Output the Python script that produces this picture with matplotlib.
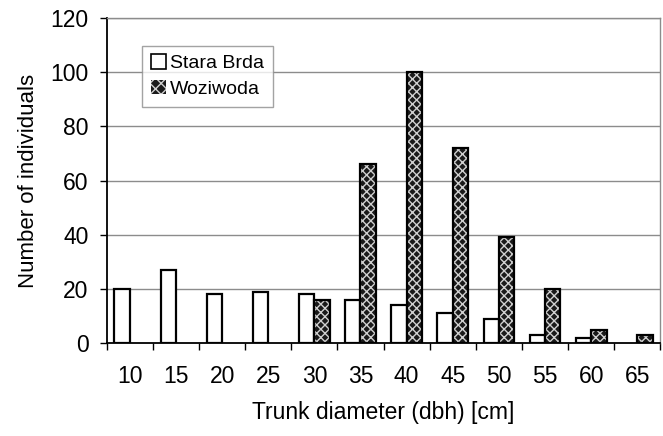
import matplotlib.pyplot as plt
import numpy as np
from matplotlib.patches import Patch

plt.rcParams["font.family"] = ["Liberation Sans", "DejaVu Sans"]

DIAMETERS = ["10", "15", "20", "25", "30", "35", "40", "45", "50", "55", "60", "65"]
STARA_BRDA = [20, 27, 18, 19, 18, 16, 14, 11, 9, 3, 2, 0]
WOZIWODA = [0, 0, 0, 0, 16, 66, 100, 72, 39, 20, 5, 3]

FS = 16.5

fig = plt.figure(figsize=(6.63, 4.36), dpi=100)
ax = fig.add_axes([0.161, 0.213, 0.835, 0.746])

x = np.arange(len(DIAMETERS))
w = 1 / 3
sb = np.array(STARA_BRDA)
wz = np.array(WOZIWODA)

for y in range(20, 121, 20):
    ax.axhline(y, color="0.55", lw=1.0, zorder=0)

# empty classes get no bar at all (no flat outline on the axis)
m1 = sb > 0
ax.bar(x[m1] - w / 2, sb[m1], width=w, color="white", edgecolor="black", lw=1.6, zorder=2)
m2 = wz > 0
ax.bar(x[m2] + w / 2, wz[m2], width=w, color="#1a1a1a", edgecolor="#d0d0d0", hatch="xxxx",
       lw=0, zorder=2)
ax.bar(x[m2] + w / 2, wz[m2], width=w, fill=False, edgecolor="black", lw=1.6, zorder=3)

ax.set_xlim(-0.5, len(DIAMETERS) - 0.5)
ax.set_ylim(0, 120)
ax.set_yticks(range(0, 121, 20))
ax.set_xticks(x)
ax.set_xticklabels(DIAMETERS)
ax.set_xticks(np.arange(len(DIAMETERS) + 1) - 0.5, minor=True)
ax.tick_params(axis="x", which="major", length=0, pad=16, labelsize=FS)
ax.tick_params(axis="x", which="minor", length=5, width=1.0, direction="out")
ax.tick_params(axis="y", length=5, width=1.0, direction="out", labelsize=FS, pad=8)

for s in ["left", "bottom"]:
    ax.spines[s].set_color("black")
    ax.spines[s].set_linewidth(1.3)
for s in ["top", "right"]:
    ax.spines[s].set_color("0.55")
    ax.spines[s].set_linewidth(1.0)

ax.set_xlabel("Trunk diameter (dbh) [cm]", fontsize=FS, labelpad=9)
ax.set_ylabel("Number of individuals", fontsize=16, labelpad=8)

handles = [
    Patch(facecolor="white", edgecolor="black", lw=1.2, label="Stara Brda"),
    Patch(facecolor="#1a1a1a", edgecolor="#d0d0d0", hatch="xxx", lw=0, label="Woziwoda"),
]
leg = ax.legend(handles=handles, loc="upper left", bbox_to_anchor=(0.064, 0.915),
                fontsize=14, frameon=True, fancybox=False, edgecolor="0.55",
                handlelength=0.75, handleheight=0.75, handletextpad=0.25,
                borderpad=0.45, labelspacing=0.4, borderaxespad=0)
leg.get_frame().set_linewidth(1.0)

fig.savefig("out.png", dpi=100)
